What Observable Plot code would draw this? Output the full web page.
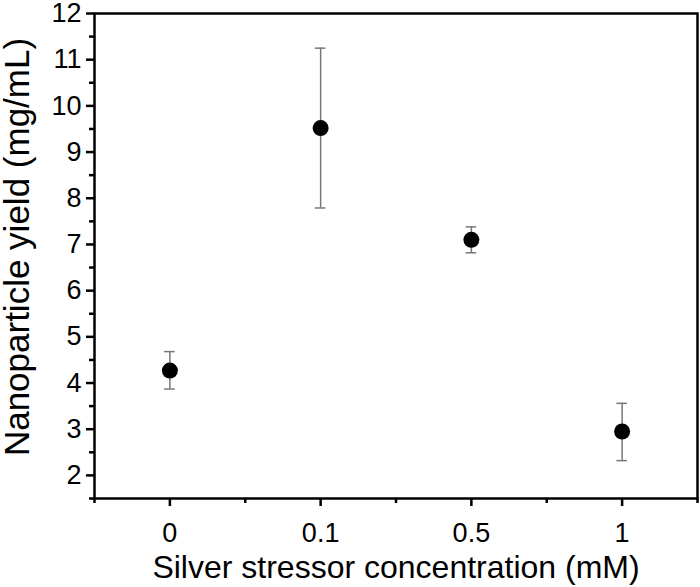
<!DOCTYPE html>
<html>
<head>
<meta charset="utf-8">
<script src="https://cdn.jsdelivr.net/npm/d3@7"></script>
<script src="https://cdn.jsdelivr.net/npm/@observablehq/plot@0.6"></script>
<style>
  html, body { margin: 0; padding: 0; background: #fff; }
  #chart { width: 700px; height: 587px; }
</style>
</head>
<body>
<div id="chart"></div>
<script>
const categories = ["0", "0.1", "0.5", "1"];
const yieldMean = [4.27, 9.52, 7.10, 2.95];
const errLow = [3.87, 7.79, 6.82, 2.32];
const errHigh = [4.68, 11.25, 7.38, 3.56];
const yTicks = [2, 3, 4, 5, 6, 7, 8, 9, 10, 11, 12];
const xTitle = "Silver stressor concentration (mM)";
const yTitle = "Nanoparticle yield (mg/mL)";

const data = categories.map((c, i) => ({i, c, y: yieldMean[i], lo: errLow[i], hi: errHigh[i]}));
const capHalf = 0.035;

const plot = Plot.plot({
  width: 700,
  height: 587,
  marginLeft: 94,
  marginRight: 3,
  marginTop: 13,
  marginBottom: 89,
  style: {fontFamily: "Liberation Sans, Arial, sans-serif", color: "#000", background: "#fff", overflow: "visible"},
  x: {domain: [-0.5, 3.5], axis: null},
  y: {domain: [1.5, 12], axis: null},
  marks: [
    Plot.axisY(yTicks, {tickSize: 8, tickPadding: 5, strokeWidth: 2.5, fontSize: 27, label: null}),
    Plot.axisY(d3.range(1.5, 12.01, 1), {tickSize: 5, strokeWidth: 2.5, tickFormat: null, text: null, label: null}),
    Plot.axisX([0, 1, 2, 3], {tickSize: 8, tickPadding: 16, strokeWidth: 2.5, fontSize: 27, tickFormat: i => categories[i], label: null}),
    Plot.axisX([-0.5, 0.5, 1.5, 2.5, 3.5], {tickSize: 5, strokeWidth: 2.5, tickFormat: null, text: null, label: null}),
    Plot.frame({stroke: "#000", strokeWidth: 2.5}),
    Plot.ruleX(data, {x: "i", y1: "lo", y2: "hi", stroke: "#777", strokeWidth: 1.5}),
    Plot.ruleY(data, {y: "hi", x1: d => d.i - capHalf, x2: d => d.i + capHalf, stroke: "#777", strokeWidth: 1.5}),
    Plot.ruleY(data, {y: "lo", x1: d => d.i - capHalf, x2: d => d.i + capHalf, stroke: "#777", strokeWidth: 1.5}),
    Plot.dot(data, {x: "i", y: "y", r: 8, fill: "#000", stroke: "none"}),
    Plot.text([xTitle], {frameAnchor: "bottom", dy: 79, fontSize: 32, fill: "#000"}),
    Plot.text([yTitle], {frameAnchor: "left", textAnchor: "middle", dx: -77, dy: -9, rotate: -90, fontSize: 35, fill: "#000"})
  ]
});
document.getElementById("chart").appendChild(plot);
</script>
</body>
</html>
